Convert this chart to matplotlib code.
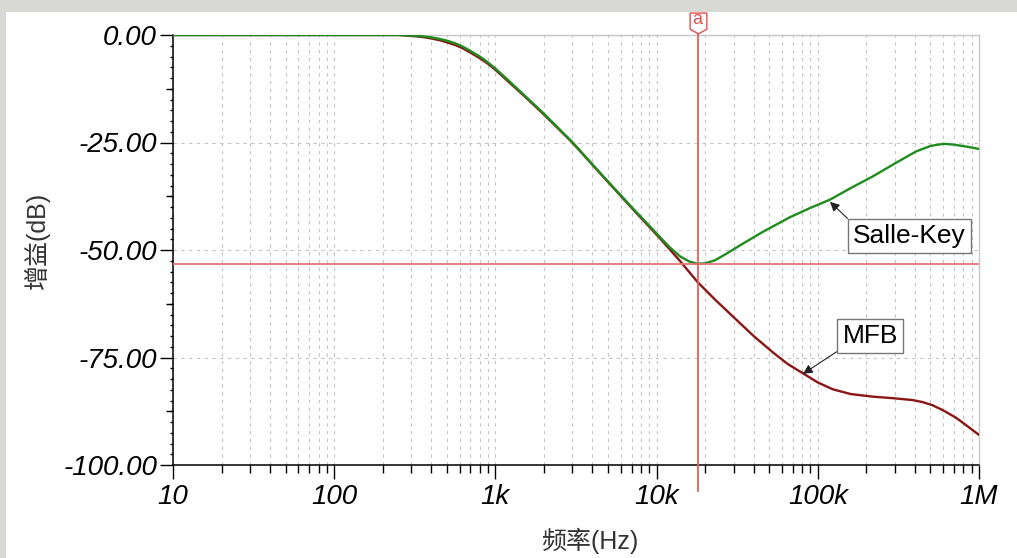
import numpy as np
import matplotlib
matplotlib.use('Agg')
import matplotlib.pyplot as plt
import matplotlib.transforms as mtransforms
from matplotlib.patches import Rectangle
from matplotlib.path import Path
from matplotlib.ticker import FixedLocator, FixedFormatter, LogLocator, MultipleLocator, NullFormatter

plt.rcParams['font.family'] = ['Liberation Sans', 'Noto Sans CJK SC', 'DejaVu Sans']

# 数据
sk_freq = [10, 100, 250, 300, 350, 400, 450, 500, 560, 620, 700, 800, 900, 1000, 1200,
           1500, 2000, 3000, 4470, 7200, 10500, 12000, 14000, 16000, 18000, 20000, 23000,
           27000, 33000, 45000, 67000, 90000, 119000, 160000, 219000, 300000, 406000,
           500000, 604000, 700000, 850000, 1000000]
sk_gain = [0, 0, 0, -0.1, -0.3, -0.55, -0.9, -1.3, -1.9, -2.6, -3.7, -5.0, -6.4, -7.8, -10.5,
           -13.9, -18.3, -24.9, -32.1, -40.5, -47.0, -49.3, -51.5, -52.7, -53.2, -53.1, -52.4,
           -50.9, -48.9, -45.9, -42.4, -40.2, -38.3, -35.6, -32.9, -29.9, -27.1,
           -25.8, -25.3, -25.5, -26.0, -26.5]

mfb_freq = [10, 100, 250, 300, 350, 400, 450, 500, 560, 620, 700, 800, 900, 1000, 1200,
            1500, 2000, 3000, 4470, 7200, 10500, 14000, 18000, 23000, 29800, 40000, 52600,
            65000, 81000, 100000, 124000, 160000, 219000, 300000, 388000, 450000, 515000,
            600000, 720000, 850000, 1000000]
mfb_gain = [0, 0, 0, -0.2, -0.45, -0.8, -1.2, -1.7, -2.3, -3.0, -4.1, -5.4, -6.7, -8.1, -10.8,
            -14.1, -18.5, -25.0, -32.2, -40.7, -47.3, -52.6, -57.5, -61.5, -65.5, -70.0, -73.8,
            -76.5, -78.7, -80.8, -82.4, -83.5, -84.1, -84.5, -84.9, -85.4, -86.1,
            -87.3, -89.0, -91.0, -93.0]

cursor_freq = 18000
cursor_gain = -53.3

freq_ticks = [10, 100, 1e3, 1e4, 1e5, 1e6]
freq_tick_labels = ['10', '100', '1k', '10k', '100k', '1M']
gain_ticks = [0, -25, -50, -75, -100]
gain_tick_labels = ['0.00', '-25.00', '-50.00', '-75.00', '-100.00']
gain_mid_ticks = [-12.5, -37.5, -62.5, -87.5]

fig = plt.figure(figsize=(10.17, 5.58), dpi=100)
fig.patch.set_facecolor('white')
# 截图边缘的灰色背景
fig.patches.append(Rectangle((0, 1 - 12 / 558), 1, 12 / 558, transform=fig.transFigure,
                             facecolor='#d8d8d4', edgecolor='none', zorder=0))
fig.patches.append(Rectangle((0, 0), 6 / 1017, 1, transform=fig.transFigure,
                             facecolor='#d8d8d4', edgecolor='none', zorder=0))

ax = fig.add_axes([173 / 1017, 93 / 558, 806 / 1017, 430 / 558])
ax.set_xscale('log')
ax.set_xlim(10, 1e6)
ax.set_ylim(-100, 0)

ax.plot(mfb_freq, mfb_gain, color='#8b1515', lw=1.7, zorder=3)
ax.plot(sk_freq, sk_gain, color='#1f8c1f', lw=1.7, zorder=4)

# 光标
ax.axhline(cursor_gain, color='#e47474', lw=1.3, zorder=5)
trans = mtransforms.blended_transform_factory(ax.transData, ax.transAxes)
ax.plot([cursor_freq, cursor_freq], [-0.06, 1.0], transform=trans, color='#e06060',
        lw=1.3, clip_on=False, zorder=5)
tag = Path([(-0.8, 1), (0.8, 1), (0.8, -0.55), (0, -1), (-0.8, -0.55), (-0.8, 1)],
           [Path.MOVETO, Path.LINETO, Path.LINETO, Path.LINETO, Path.LINETO, Path.CLOSEPOLY])
ax.plot([cursor_freq], [1.029], transform=trans, marker=tag, ms=15, mfc='white',
        mec='#e05050', mew=1, clip_on=False, zorder=6)
ax.text(cursor_freq, 1.036, 'a', transform=trans, ha='center', va='center',
        color='#e05050', fontsize=13, zorder=7)

# 标注
ax.annotate('Salle-Key', xy=(119000, -38.8), xytext=(371000, -46.7), ha='center', va='center',
            fontsize=19, zorder=8,
            bbox=dict(boxstyle='square,pad=0.2', fc='white', ec='#777777', lw=1),
            arrowprops=dict(arrowstyle='-|>', color='#222222', lw=0.8, shrinkA=0, shrinkB=0,
                            relpos=(0, 1), mutation_scale=14))
ax.annotate('MFB', xy=(81000, -78.8), xytext=(211000, -70), ha='center', va='center',
            fontsize=19, zorder=8,
            bbox=dict(boxstyle='square,pad=0.2', fc='white', ec='#777777', lw=1),
            arrowprops=dict(arrowstyle='-|>', color='#222222', lw=0.8, shrinkA=0, shrinkB=0,
                            relpos=(0, 0), mutation_scale=14))

# 网格
dash = (0, (3, 4))
ax.grid(which='both', axis='x', ls=dash, color='#c4c4c4', lw=0.8)
ax.grid(which='major', axis='y', ls=dash, color='#c4c4c4', lw=0.8)

# 坐标轴
for s in ['top', 'right']:
    ax.spines[s].set_color('#c8c8c8')
    ax.spines[s].set_linewidth(1)
for s in ['left', 'bottom']:
    ax.spines[s].set_color('black')
    ax.spines[s].set_linewidth(1.1)

ax.xaxis.set_major_locator(FixedLocator(freq_ticks))
ax.xaxis.set_major_formatter(FixedFormatter(freq_tick_labels))
ax.xaxis.set_minor_locator(LogLocator(base=10, subs=np.arange(2, 10)))
ax.xaxis.set_minor_formatter(NullFormatter())
ax.yaxis.set_major_locator(FixedLocator(gain_ticks))
ax.yaxis.set_major_formatter(FixedFormatter(gain_tick_labels))
ax.yaxis.set_minor_locator(MultipleLocator(2.5))

ax.tick_params(axis='x', which='major', length=10, width=1, direction='out', pad=4, labelsize=20)
ax.tick_params(axis='x', which='minor', length=5.5, width=1, direction='out')
ax.tick_params(axis='y', which='major', length=9.5, width=1, direction='out', pad=2, labelsize=20)
ax.tick_params(axis='y', which='minor', length=2.5, width=1, direction='out')
for lbl in ax.get_xticklabels() + ax.get_yticklabels():
    lbl.set_fontstyle('italic')

sec = ax.secondary_yaxis('left')
sec.set_yticks(gain_mid_ticks)
sec.tick_params(axis='y', length=5, width=1, labelleft=False)
sec.spines['left'].set_visible(False)

ax.set_xlabel('频率(Hz)', fontsize=18, color='#333333')
ax.xaxis.set_label_coords(0.517, -0.147)
ax.set_ylabel('增益(dB)', fontsize=18, color='#333333')
ax.yaxis.set_label_coords(-0.153, 0.523)

fig.savefig('out.png', dpi=100)
